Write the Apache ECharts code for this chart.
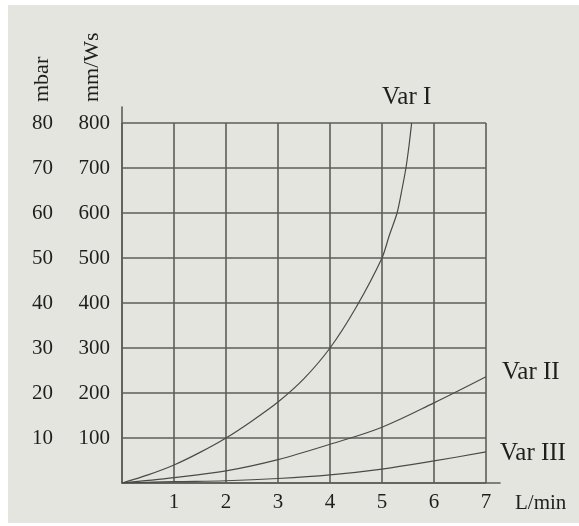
<!DOCTYPE html>
<html>
<head>
<meta charset="utf-8">
<script src="https://cdn.jsdelivr.net/npm/echarts@6/dist/echarts.min.js"></script>
<style>
html,body{margin:0;padding:0;background:#fff;}
#c{width:579px;height:526px;}
</style>
</head>
<body>
<div id="c"></div>
<script>
// Data
var flowVarI = [0, 0.5, 1, 1.5, 2, 2.5, 3, 3.5, 4, 4.5, 5, 5.14, 5.29, 5.38, 5.46, 5.52, 5.57];
var valVarI  = [0, 18, 40, 68, 100, 138, 180, 232, 300, 390, 500, 550, 600, 650, 700, 750, 800];
var flowSteps = [0, 1, 2, 3, 4, 5, 6, 7];
var valVarII  = [0, 12, 27, 52, 86, 124, 178, 236];
var valVarIII = [0, 3, 5, 10, 18, 31, 49, 69];
var seriesNames = ['Var I', 'Var II', 'Var III'];
var xName = 'L/min';
var yNameMain = 'mm/Ws';
var yNameSecond = 'mbar';

function pairs(xs, ys) { return xs.map(function (x, i) { return [x, ys[i]]; }); }

var FONT = '"Liberation Serif", "DejaVu Serif", serif';
var TXT = '#1e1e1e';
var GRIDC = '#5e5e58';
var LINEC = '#4a4a4a';

var chart = echarts.init(document.getElementById('c'), null, {renderer: 'canvas'});
chart.setOption({
  backgroundColor: '#ffffff',
  animation: false,
  graphic: [
    {type: 'rect', left: 8, top: 5, shape: {width: 571, height: 518}, style: {fill: '#e5e5df'}, z: -10},
    {type: 'text', x: 42, y: 102, rotation: Math.PI / 2,
     style: {text: yNameSecond, font: '22px ' + FONT, fill: TXT, textAlign: 'left', textVerticalAlign: 'middle'}},
    {type: 'text', x: 92, y: 102, rotation: Math.PI / 2,
     style: {text: yNameMain, font: '22px ' + FONT, fill: TXT, textAlign: 'left', textVerticalAlign: 'middle'}}
  ],
  grid: [
    {left: 122, top: 123, width: 364, height: 360},
    {left: 122, top: 107, width: 378, height: 376}
  ],
  xAxis: [
    {type: 'value', gridIndex: 0, min: 0, max: 7, interval: 1,
     axisLine: {show: false}, axisTick: {show: false},
     axisLabel: {showMinLabel: false, margin: 9, fontFamily: FONT, fontSize: 21, color: TXT},
     splitLine: {show: true, lineStyle: {color: GRIDC, width: 1.6}},
     name: xName, nameLocation: 'end', nameGap: 29,
     nameTextStyle: {fontFamily: FONT, fontSize: 21, color: TXT, align: 'left', verticalAlign: 'top', padding: [10, 0, 0, 0]}},
    {type: 'value', gridIndex: 1, min: 0, max: 1,
     axisLine: {show: true, lineStyle: {color: GRIDC, width: 1.6}}, axisTick: {show: false},
     axisLabel: {show: false}, splitLine: {show: false}}
  ],
  yAxis: [
    {type: 'value', gridIndex: 0, min: 0, max: 800, interval: 100,
     axisLine: {show: false}, axisTick: {show: false},
     axisLabel: {showMinLabel: false, margin: 12, fontFamily: FONT, fontSize: 21, color: TXT},
     splitLine: {show: true, lineStyle: {color: GRIDC, width: 1.6}}},
    {type: 'value', gridIndex: 0, min: 0, max: 80, interval: 10, position: 'left', offset: 57,
     axisLine: {show: false}, axisTick: {show: false},
     axisLabel: {showMinLabel: false, margin: 12, fontFamily: FONT, fontSize: 21, color: TXT},
     splitLine: {show: false}},
    {type: 'value', gridIndex: 1, min: 0, max: 1,
     axisLine: {show: true, lineStyle: {color: GRIDC, width: 1.6}}, axisTick: {show: false},
     axisLabel: {show: false}, splitLine: {show: false}}
  ],
  series: [
    {name: seriesNames[0], type: 'line', xAxisIndex: 0, yAxisIndex: 0, data: pairs(flowVarI, valVarI),
     smooth: 0.25, showSymbol: false, lineStyle: {color: LINEC, width: 1.2},
     endLabel: {show: true, formatter: seriesNames[0], distance: 0, align: 'center', offset: [-5, -26],
                fontFamily: FONT, fontSize: 25, color: TXT}},
    {name: seriesNames[1], type: 'line', xAxisIndex: 0, yAxisIndex: 0, data: pairs(flowSteps, valVarII),
     smooth: 0.35, showSymbol: false, lineStyle: {color: LINEC, width: 1.2},
     endLabel: {show: true, formatter: seriesNames[1], distance: 16, offset: [0, -4],
                fontFamily: FONT, fontSize: 25, color: TXT}},
    {name: seriesNames[2], type: 'line', xAxisIndex: 0, yAxisIndex: 0, data: pairs(flowSteps, valVarIII),
     smooth: 0.35, showSymbol: false, lineStyle: {color: LINEC, width: 1.2},
     endLabel: {show: true, formatter: seriesNames[2], distance: 14, offset: [0, 1],
                fontFamily: FONT, fontSize: 25, color: TXT}}
  ]
});
</script>
</body>
</html>
